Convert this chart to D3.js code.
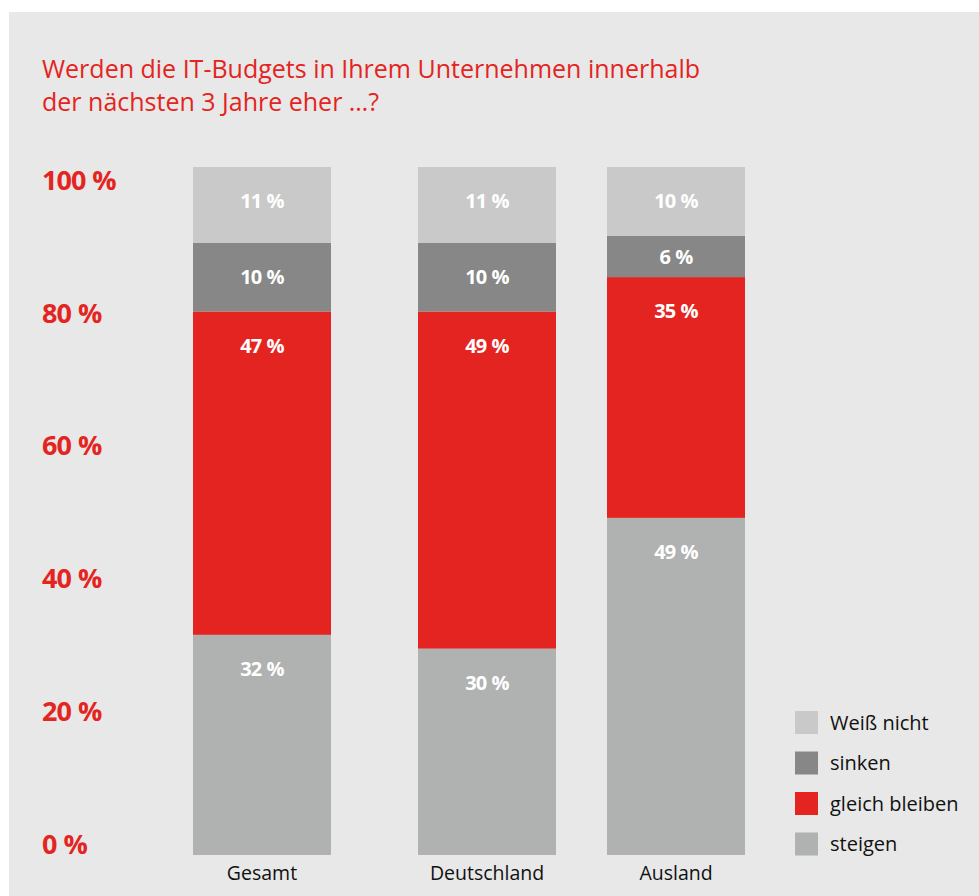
<!DOCTYPE html>
<html>
<head>
<meta charset="utf-8">
<script src="https://cdn.jsdelivr.net/npm/d3@7"></script>
<style>
  body { margin: 0; background: #fff; }
  text { font-family: "Open Sans", "Noto Sans", sans-serif; }
</style>
</head>
<body>
<script>
// data
const categories = ['Gesamt', 'Deutschland', 'Ausland']
const series = ['steigen', 'gleich bleiben', 'sinken', 'Weiß nicht']
const steigen = [32, 30, 49]
const gleichBleiben = [47, 49, 35]
const sinken = [10, 10, 6]
const weissNicht = [11, 11, 10]
const yTicks = [0, 20, 40, 60, 80, 100]
const legendOrder = ['Weiß nicht', 'sinken', 'gleich bleiben', 'steigen']

const colors = {
    'steigen': '#b0b1b1',
    'gleich bleiben': '#e42421',
    'sinken': '#878787',
    'Weiß nicht': '#c9c9c9'
}
const red = '#e42421'

const m = { width: 979, height: 896 }

const svg = d3.select('body').append('svg')
    .attr('width', m.width)
    .attr('height', m.height)

// grey panel
svg.append('rect')
    .attr('x', 9).attr('y', 12)
    .attr('width', m.width - 9).attr('height', m.height - 12)
    .attr('fill', '#e7e8e7')

// title
const title = svg.append('text')
    .attr('x', 42).attr('y', 78)
    .attr('fill', red)
    .style('font-size', '25px')
title.append('tspan').attr('x', 42).text('Werden die IT-Budgets in Ihrem Unternehmen innerhalb')
title.append('tspan').attr('x', 42).attr('dy', 33).text('der nächsten 3 Jahre eher …?')

// table for stacking
const table = categories.map((c, i) => ({
    cat: c,
    'steigen': steigen[i],
    'gleich bleiben': gleichBleiben[i],
    'sinken': sinken[i],
    'Weiß nicht': weissNicht[i]
}))
const stacked = d3.stack().keys(series)(table)

// scales
const xScale = d3.scaleOrdinal()
    .domain(categories)
    .range([193, 418, 607])
const barW = 138

const yScale = d3.scaleLinear()
    .domain([0, 100])
    .range([855, 167])

// tick labels sit a bit inside the bar range
const yLabel = d3.scaleLinear()
    .domain([0, 100])
    .range([844, 180])

svg.append('g')
    .selectAll('text')
    .data(yTicks)
    .join('text')
    .attr('x', 42)
    .attr('y', d => yLabel(d))
    .attr('dy', '0.36em')
    .attr('fill', red)
    .style('font-size', '27px')
    .style('font-weight', 700)
    .style('letter-spacing', '-1px')
    .text(d => d + '\u2006\u2006%')

// bars
const layers = svg.append('g')
    .selectAll('g')
    .data(stacked)
    .join('g')
    .attr('fill', d => colors[d.key])

layers.selectAll('rect')
    .data(d => d)
    .join('rect')
    .attr('x', d => xScale(d.data.cat))
    .attr('width', barW)
    .attr('y', d => yScale(d[1]))
    .attr('height', d => yScale(d[0]) - yScale(d[1]))

// value labels: centred in small segments, near the top in tall ones
layers.selectAll('text')
    .data(d => d.map(v => ({ v, key: d.key })))
    .join('text')
    .attr('x', d => xScale(d.v.data.cat) + barW / 2)
    .attr('y', d => {
        const top = yScale(d.v[1])
        const mid = (yScale(d.v[0]) + top) / 2
        return Math.min(mid, top + 34)
    })
    .attr('dy', '0.36em')
    .attr('text-anchor', 'middle')
    .attr('fill', '#fff')
    .style('font-size', '20px')
    .style('font-weight', 700)
    .style('letter-spacing', '-0.8px')
    .text(d => d.v.data[d.key] + '\u2006\u2006%')

// category labels
svg.append('g')
    .selectAll('text')
    .data(categories)
    .join('text')
    .attr('x', d => xScale(d) + barW / 2)
    .attr('y', 880)
    .attr('text-anchor', 'middle')
    .attr('fill', '#111')
    .style('font-size', '19.5px')
    .text(d => d)

// legend
const legend = svg.append('g')
    .selectAll('g')
    .data(legendOrder)
    .join('g')
    .attr('transform', (d, i) => `translate(795, ${711 + i * 40.5})`)

legend.append('rect')
    .attr('width', 23).attr('height', 23)
    .attr('fill', d => colors[d])

legend.append('text')
    .attr('x', 35).attr('y', 11.5)
    .attr('dy', '0.36em')
    .attr('fill', '#111')
    .style('font-size', '20px')
    .text(d => d)
</script>
</body>
</html>
